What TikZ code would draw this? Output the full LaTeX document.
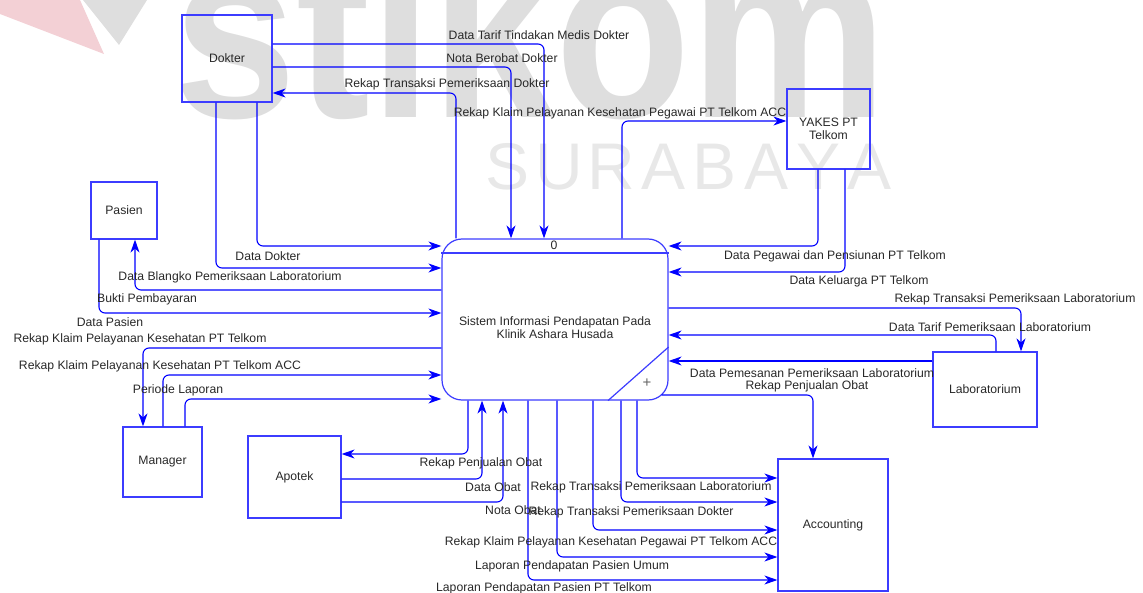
\documentclass[tikz,border=0pt]{standalone}
\usepackage{fontspec}
\setmainfont{Liberation Sans}
\usepackage{tikz}
\usetikzlibrary{arrows.meta, positioning, calc}
\definecolor{flowblue}{RGB}{0, 0, 255}
\definecolor{boxblue}{RGB}{60, 60, 255}
\definecolor{txtgray}{RGB}{40, 40, 40}
\definecolor{wmgray}{RGB}{222, 222, 222}
\definecolor{wmlight}{RGB}{232, 232, 232}
\definecolor{wmpink}{RGB}{243, 208, 213}

\begin{document}
\begin{tikzpicture}[x=1pt, y=-1pt,
  entity/.style={draw=boxblue, line width=1.2pt, inner sep=0pt, align=center,
    font=\fontsize{12.2}{13}\selectfont, text=txtgray},
  flow/.style={draw=flowblue, line width=1.1pt, rounded corners=6pt,
    -{Stealth[length=13pt, width=9pt, inset=4pt]}},
  lbl/.style={font=\fontsize{12.2}{13}\selectfont, text=txtgray, inner sep=0pt}]

  \useasboundingbox (0,0) rectangle (1143,593);

  % Watermark
  \fill[wmpink] (0,0) -- (80,0) -- (104,54) -- (0,14) -- cycle;
  \fill[wmgray] (83,0) -- (147,0) -- (119,45) -- cycle;
  \node[anchor=base west, inner sep=0pt, text=wmgray,
    font=\fontsize{250}{250}\selectfont\bfseries] (wmstikom) at (173,118) {\scalebox{0.887}[1]{stikom}};
  \foreach \ch [count=\i from 0] in {S,U,R,A,B,A,Y,A}
    \node[anchor=base, inner sep=0pt, text=wmlight, font=\fontsize{66}{66}\selectfont] (sur\i) at (508+\i*51.7,190) {\ch};

  % External entities
  \node[entity, minimum width=90, minimum height=87] (dokter) at (227,58.5) {Dokter};
  \node[entity, minimum width=66, minimum height=57] (pasien) at (124,210.5) {Pasien};
  \node[entity, minimum width=83, minimum height=80] (yakes) at (828.5,129) {YAKES PT\\Telkom};
  \node[entity, minimum width=104, minimum height=75] (lab) at (985,389.5) {Laboratorium};
  \node[entity, minimum width=79, minimum height=70] (manager) at (162.5,462) {Manager};
  \node[entity, minimum width=93, minimum height=82] (apotek) at (294.5,477) {Apotek};
  \node[entity, minimum width=110, minimum height=132] (acc) at (833,525) {Accounting};

  % Process
  \node[entity, rounded corners=20pt, minimum width=226, minimum height=161] (proc) at (555,319.5) {};
  \draw[boxblue, line width=1.2pt] (proc.west |- 0,253) -- (proc.east |- 0,253);
  \draw[boxblue, line width=1.2pt] (proc.south -| 608,0) -- (proc.east |- 0,347);
  \node[lbl] (procid) at (554,245) {0};
  \node[lbl, font=\fontsize{15}{15}\selectfont, text=black!60] (procplus) at (647,383) {+};
  \node[lbl, align=center] (proclbl) at (555,328) {Sistem Informasi Pendapatan Pada\\Klinik Ashara Husada};

  % Dokter flows
  \draw[flow] (dokter.east |- 0,44) -| (proc.north -| 544,0);
  \draw[flow] (dokter.east |- 0,67) -| (proc.north -| 511,0);
  \draw[flow] (proc.north -| 456,0) |- (dokter.east |- 0,93);
  \draw[flow] (dokter.south -| 257,0) |- (proc.west |- 0,246);
  \draw[flow] (dokter.south -| 216,0) |- (proc.west |- 0,268);

  % Pasien flows
  \draw[flow] (proc.west |- 0,290) -| (pasien.south -| 135,0);
  \draw[flow] (pasien.south -| 99,0) |- (proc.west |- 0,313);

  % Manager flows
  \draw[flow] (proc.west |- 0,348) -| (manager.north -| 143,0);
  \draw[flow] (manager.north -| 163,0) |- (proc.west |- 0,375);
  \draw[flow] (manager.north -| 185,0) |- (proc.west |- 0,399);

  % Apotek flows
  \draw[flow] (proc.south -| 468,0) |- (apotek.east |- 0,454);
  \draw[flow] (apotek.east |- 0,479) -| (proc.south -| 482,0);
  \draw[flow] (apotek.east |- 0,502) -| (proc.south -| 503,0);

  % Accounting flows
  \draw[flow] (proc.south -| 528,0) |- (acc.west |- 0,580);
  \draw[flow] (proc.south -| 557,0) |- (acc.west |- 0,557);
  \draw[flow] (proc.south -| 593,0) |- (acc.west |- 0,530);
  \draw[flow] (proc.south -| 621,0) |- (acc.west |- 0,502);
  \draw[flow] (proc.south -| 637,0) |- (acc.west |- 0,478);
  \draw[flow] ($(proc.east |- 0,395)+(-7,0)$) -| (acc.north -| 813,0);

  % Laboratorium flows
  \draw[flow] (proc.east |- 0,308) -| (lab.north -| 1021,0);
  \draw[flow] (lab.north -| 996,0) |- (proc.east |- 0,335);
  \draw[flow] (lab.west |- 0,361) -- (proc.east |- 0,361);

  % YAKES flows
  \draw[flow] (proc.north -| 622,0) |- (yakes.west |- 0,121);
  \draw[flow] (yakes.south -| 818,0) |- (proc.east |- 0,246);
  \draw[flow] (yakes.south -| 845,0) |- (proc.east |- 0,272);

  % Flow labels
  \node[lbl] (lTarifDokter) at (539,35) {Data Tarif Tindakan Medis Dokter};
  \node[lbl] (lNotaDokter) at (502,58) {Nota Berobat Dokter};
  \node[lbl] (lRekapDokter) at (447,84) {Rekap Transaksi Pemeriksaan Dokter};
  \node[lbl] (lKlaimYakes) at (620,113) {Rekap Klaim Pelayanan Kesehatan Pegawai PT Telkom ACC};
  \node[lbl] (lDataDokter) at (268,256) {Data Dokter};
  \node[lbl] (lBlangko) at (230,277) {Data Blangko Pemeriksaan Laboratorium};
  \node[lbl] (lBukti) at (147,299) {Bukti Pembayaran};
  \node[lbl] (lPasien) at (110,322) {Data Pasien};
  \node[lbl] (lKlaimMgr) at (140,339) {Rekap Klaim Pelayanan Kesehatan PT Telkom};
  \node[lbl] (lKlaimAcc) at (160,366) {Rekap Klaim Pelayanan Kesehatan PT Telkom ACC};
  \node[lbl] (lPeriode) at (178,390) {Periode Laporan};
  \node[lbl] (lPegawai) at (835,256) {Data Pegawai dan Pensiunan PT Telkom};
  \node[lbl] (lKeluarga) at (859,281) {Data Keluarga PT Telkom};
  \node[lbl] (lRekapLab) at (1015,299) {Rekap Transaksi Pemeriksaan Laboratorium};
  \node[lbl] (lTarifLab) at (990,327) {Data Tarif Pemeriksaan Laboratorium};
  \node[lbl] (lPesanLab) at (812,373) {Data Pemesanan Pemeriksaan Laboratorium};
  \node[lbl] (lJualAcc) at (807,386) {Rekap Penjualan Obat};
  \node[lbl] (lJualApt) at (481,463) {Rekap Penjualan Obat};
  \node[lbl] (lObat) at (493,487) {Data Obat};
  \node[lbl] (lNotaObat) at (513,510) {Nota Obat};
  \node[lbl] (lAccLab) at (651,487) {Rekap Transaksi Pemeriksaan Laboratorium};
  \node[lbl] (lAccDokter) at (631,512) {Rekap Transaksi Pemeriksaan Dokter};
  \node[lbl] (lAccKlaim) at (611,542) {Rekap Klaim Pelayanan Kesehatan Pegawai PT Telkom ACC};
  \node[lbl] (lUmum) at (572,566) {Laporan Pendapatan Pasien Umum};
  \node[lbl] (lTelkom) at (544,588) {Laporan Pendapatan Pasien PT Telkom};
\end{tikzpicture}
\end{document}
